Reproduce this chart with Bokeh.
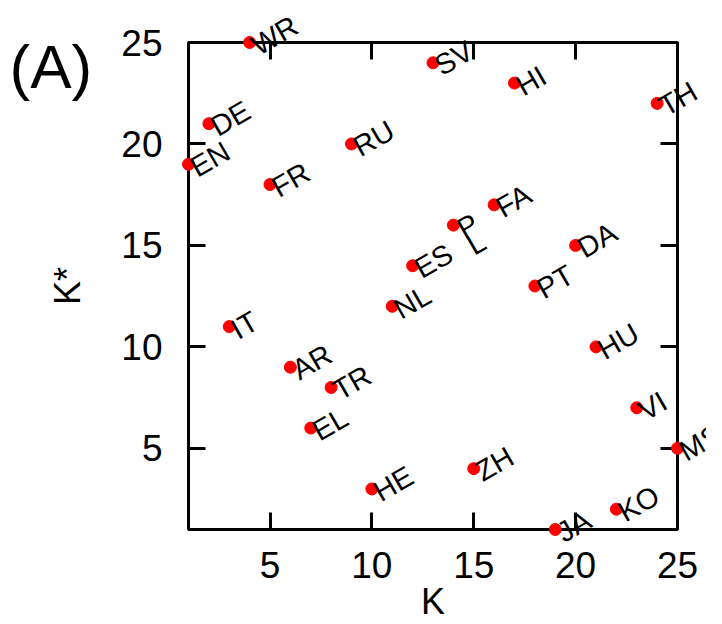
from bokeh.plotting import figure
from bokeh.models import ColumnDataSource, FixedTicker, LinearAxis, Range1d
from bokeh.embed import file_html
from bokeh.resources import INLINE
from bokeh.core.properties import value

# data
langs = ["WR", "SV", "HI", "TH", "DE", "EN", "RU", "FR", "FA", "PL", "ES", "DA", "PT",
         "NL", "IT", "HU", "AR", "TR", "VI", "EL", "MS", "ZH", "HE", "KO", "JA"]
k_vals = [4, 13, 17, 24, 2, 1, 9, 5, 16, 14, 12, 20, 18, 11, 3, 21, 6, 8, 23, 7, 25, 15, 10, 22, 19]
kstar_vals = [25, 24, 23, 22, 21, 19, 20, 18, 17, 16, 14, 15, 13, 12, 11, 10, 9, 8, 7, 6, 5, 4, 3, 2, 1]
x_ticks = [5, 10, 15, 20, 25]
y_ticks = [5, 10, 15, 20, 25]
k_min, k_max = 1, 25
panel_tag = "(A)"

FONT = "Liberation Sans"

# the PL label is drawn stacked (P over L) in the reference
label_text = ["P\nL" if s == "PL" else s for s in langs]
x_off = [11 if s == "PL" else 4 for s in langs]
y_off = [14 if s == "PL" else 5 for s in langs]

src = ColumnDataSource(dict(k=k_vals, kstar=kstar_vals, label=label_text,
                            xo=x_off, yo=y_off))

p = figure(frame_width=489, frame_height=487,
           x_range=Range1d(k_min, k_max), y_range=Range1d(k_min, k_max),
           output_backend="svg", toolbar_location=None,
           min_border_left=188, min_border_right=29,
           min_border_top=42, min_border_bottom=79)
p.grid.visible = False
p.outline_line_color = "black"
p.outline_line_width = 3
p.background_fill_color = "white"
p.border_fill_color = "white"

for ax in (p.xaxis[0], p.yaxis[0]):
    ax.major_tick_in = 17
    ax.major_tick_out = 0
    ax.major_tick_line_width = 3
    ax.major_tick_line_color = "black"
    ax.minor_tick_line_color = None
    ax.axis_line_color = None
    ax.major_label_text_font = FONT
    ax.major_label_text_font_size = "37px"
    ax.major_label_text_color = "black"
    ax.axis_label_text_font = FONT
    ax.axis_label_text_font_size = "36px"
    ax.axis_label_text_font_style = "normal"
    ax.axis_label_text_color = "black"

p.xaxis[0].ticker = FixedTicker(ticks=x_ticks)
p.yaxis[0].ticker = FixedTicker(ticks=y_ticks)
p.xaxis[0].axis_label = "K"
p.yaxis[0].axis_label = "K*"
p.xaxis[0].major_label_standoff = 22
p.yaxis[0].major_label_standoff = 26
p.xaxis[0].axis_label_standoff = 0
p.yaxis[0].axis_label_standoff = 30

for loc, ticks in (("above", x_ticks), ("right", y_ticks)):
    ax = LinearAxis(ticker=FixedTicker(ticks=ticks))
    ax.major_tick_in = 17
    ax.major_tick_out = 0
    ax.major_tick_line_width = 3
    ax.major_tick_line_color = "black"
    ax.minor_tick_line_color = None
    ax.axis_line_color = None
    ax.major_label_text_font_size = "0px"
    ax.major_label_text_color = None
    ax.major_label_standoff = 0
    p.add_layout(ax, loc)

p.scatter("k", "kstar", source=src, size=12, color="#ff0000", level="overlay")
p.text("k", "kstar", text="label", source=src, angle=30, angle_units="deg",
       text_font=value(FONT), text_font_size=value("29px"), text_color="black",
       text_align="left", text_baseline="alphabetic", text_line_height=0.6,
       x_offset="xo", y_offset="yo", level="overlay")

# panel tag "(A)": anchored at the frame's top-left corner, shifted in screen pixels
tag_src = ColumnDataSource(dict(x=[k_min], y=[k_max], t=[panel_tag]))
p.text("x", "y", text="t", source=tag_src, text_font=value(FONT),
       text_font_size=value("62px"), text_color="black", text_align="left",
       text_baseline="alphabetic", x_offset=-179, y_offset=24, level="overlay")

open("out.html", "w").write(file_html(p, INLINE))
